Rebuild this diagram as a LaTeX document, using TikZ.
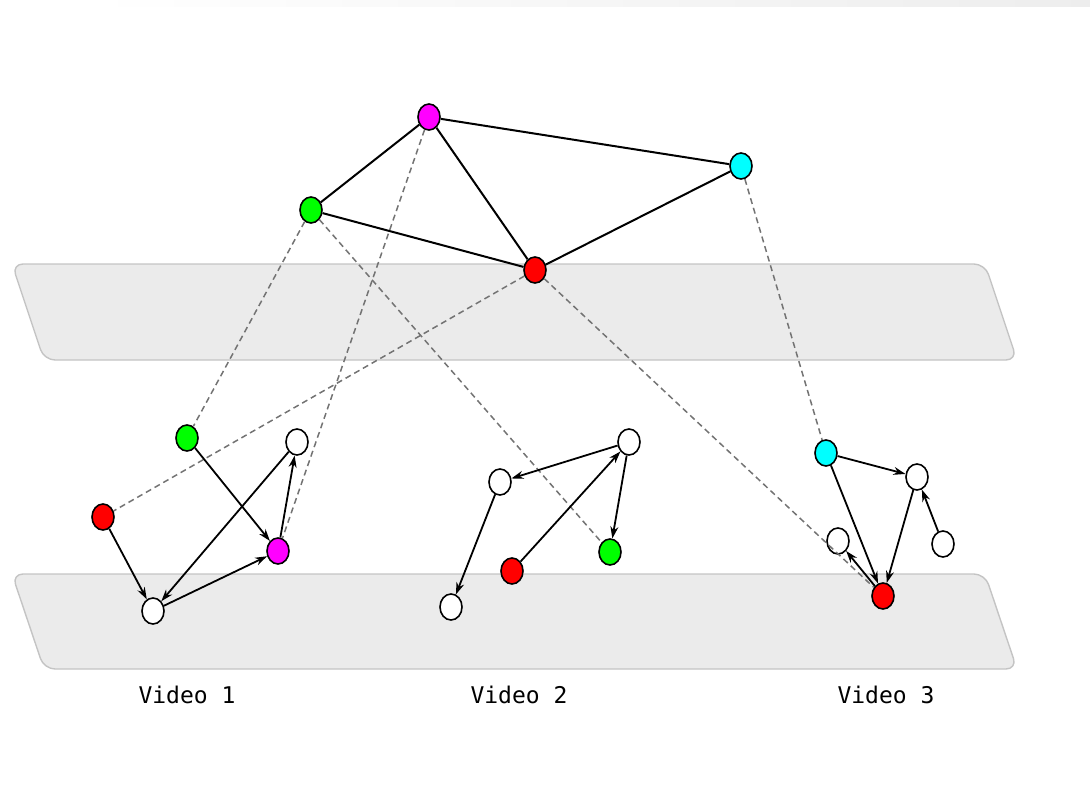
\documentclass[tikz,border=0pt]{standalone}
\usepackage{fontspec}
\setmonofont{DejaVu Sans Mono}
\usetikzlibrary{shapes.geometric,arrows.meta}
\definecolor{bandfill}{HTML}{EBEBEB}
\definecolor{bandline}{HTML}{C4C4C4}
\definecolor{vcyan}{HTML}{00FFFF}
\definecolor{vgreen}{HTML}{00FF00}
\definecolor{vmag}{HTML}{FF00FF}
\definecolor{vred}{HTML}{FF0000}
\tikzset{
  vnode/.style={ellipse, draw=black, line width=1.6pt, minimum width=22pt,
    minimum height=26pt, inner sep=0pt, fill=white},
  band/.style={fill=bandfill, draw=bandline, line width=1.4pt, rounded corners=11pt},
  link/.style={line width=2pt},
  match/.style={draw=black!55, line width=1.5pt, dash pattern=on 6pt off 4pt},
  arc/.style={line width=1.8pt, -{Stealth[length=12pt,width=8pt]}},
  caption/.style={font=\ttfamily\fontsize{23}{25}\selectfont, anchor=center}
}
\begin{document}
\begin{tikzpicture}[x=1pt,y=-1pt]
\useasboundingbox (0,0) rectangle (1090,797);
% faint shading along the top edge
\shade[left color=white, right color=black!7, draw=none] (90,0) rectangle (1090,7);

% the two slanted planes
\path[band] (12,264) -- (985,264) -- (1017,360) -- (44,360) -- cycle;
\path[band] (12,574) -- (985,574) -- (1017,669) -- (44,669) -- cycle;

% global graph
\node[vnode, fill=vmag]   (gm) at (429,117) {};
\node[vnode, fill=vgreen] (gg) at (311,210) {};
\node[vnode, fill=vcyan]  (gc) at (741,166) {};
\node[vnode, fill=vred]   (gr) at (535,270) {};

% video 1
\node[vnode, fill=vgreen] (ag) at (187,438) {};
\node[vnode]              (aw1) at (297,442) {};
\node[vnode, fill=vred]   (ar) at (103,517) {};
\node[vnode, fill=vmag]   (am) at (278,551) {};
\node[vnode]              (aw2) at (153,611) {};

% video 2
\node[vnode]              (bw1) at (629,442) {};
\node[vnode]              (bw2) at (500,482) {};
\node[vnode, fill=vred]   (br) at (512,571) {};
\node[vnode, fill=vgreen] (bg) at (610,552) {};
\node[vnode]              (bw3) at (451,607) {};

% video 3
\node[vnode, fill=vcyan]  (cc) at (826,453) {};
\node[vnode]              (cw1) at (917,477) {};
\node[vnode]              (cw2) at (838,541) {};
\node[vnode]              (cw3) at (943,544) {};
\node[vnode, fill=vred]   (cr) at (883,596) {};

% correspondences between global and per-video nodes
\draw[match] (gg) -- (ag);
\draw[match] (gm) -- (am);
\draw[match] (gg) -- (bg);
\draw[match] (gr) -- (ar);
\draw[match] (gr) -- (cr);
\draw[match] (gc) -- (cc);

% global edges
\draw[link] (gg) -- (gm);
\draw[link] (gm) -- (gc);
\draw[link] (gm) -- (gr);
\draw[link] (gg) -- (gr);
\draw[link] (gr) -- (gc);

% video 1 arcs
\draw[arc] (ag) -- (am);
\draw[arc] (ar) -- (aw2);
\draw[arc] (aw2) -- (am);
\draw[arc] (am) -- (aw1);
\draw[arc] (aw1) -- (aw2);

% video 2 arcs
\draw[arc] (bw1) -- (bw2);
\draw[arc] (br) -- (bw1);
\draw[arc] (bw1) -- (bg);
\draw[arc] (bw2) -- (bw3);

% video 3 arcs
\draw[arc] (cc) -- (cw1);
\draw[arc] (cc) -- (cr);
\draw[arc] (cw1) -- (cr);
\draw[arc] (cw3) -- (cw1);
\draw[arc] (cr) -- (cw2);

% captions
\node[caption] (l1) at (187,695) {Video 1};
\node[caption] (l2) at (519,695) {Video 2};
\node[caption] (l3) at (886,695) {Video 3};
\end{tikzpicture}
\end{document}
